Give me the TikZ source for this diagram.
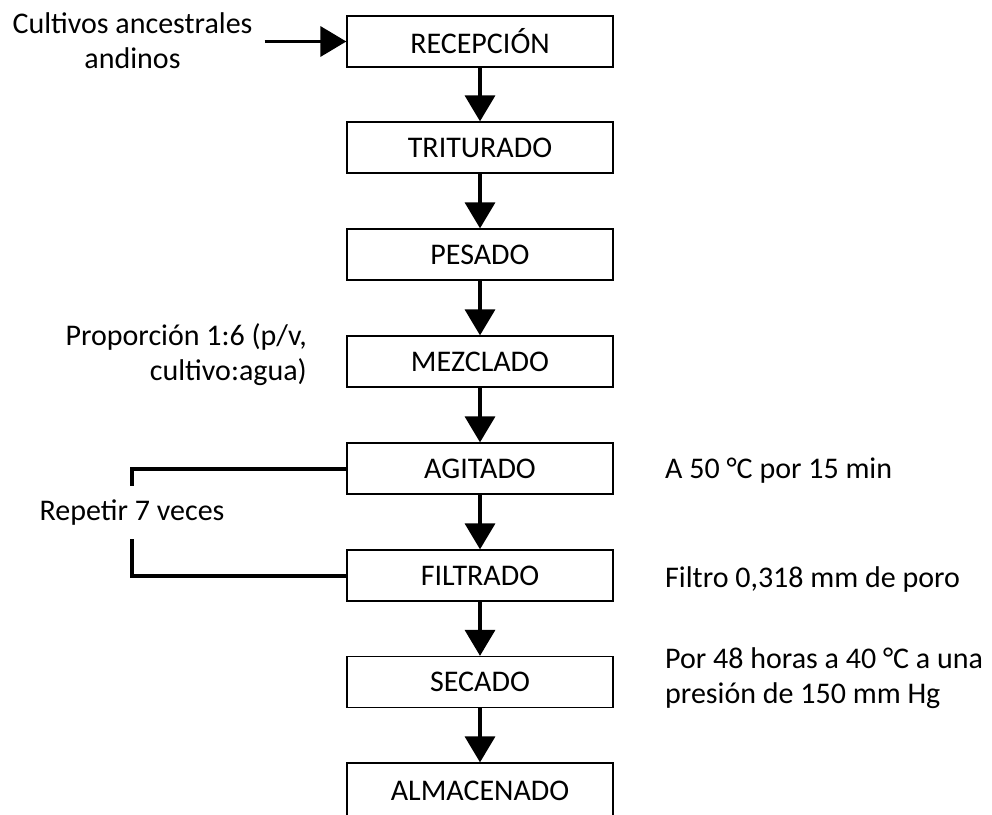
\documentclass[tikz,border=0pt]{standalone}
\usepackage{fontspec}
\setmainfont{Carlito}
\usetikzlibrary{arrows.meta}
\begin{document}
\begin{tikzpicture}[x=1pt,y=-1pt,
  every node/.style={font=\fontsize{30}{35}\selectfont},
  stepbox/.style={draw=black, line width=1.3pt, minimum width=266pt,
    minimum height=51pt, inner sep=0pt},
  flow/.style={line width=3.6pt, -{Triangle[length=26pt,width=30pt]}},
  bracket/.style={line width=4pt},
  note/.style={inner sep=0pt}
]
\useasboundingbox (0,0) rectangle (992,814);
\clip (0,0) rectangle (992,814);

% process steps
\node[stepbox] (rec) at (480,41.5)  {RECEPCIÓN};
\node[stepbox] (tri) at (480,147.5) {TRITURADO};
\node[stepbox] (pes) at (480,254.5) {PESADO};
\node[stepbox] (mez) at (480,361.5) {MEZCLADO};
\node[stepbox] (agi) at (480,468.5) {AGITADO};
\node[stepbox] (fil) at (480,575.5) {FILTRADO};
\node[stepbox] (sec) at (480,682)   {SECADO};
% last step runs past the lower edge of the page
\node[stepbox, minimum height=56pt] (alm) at (480,791) {ALMACENADO};

% flow arrows
\draw[flow] (rec) -- (tri);
\draw[flow] (tri) -- (pes);
\draw[flow] (pes) -- (mez);
\draw[flow] (mez) -- (agi);
\draw[flow] (agi) -- (fil);
\draw[flow] (fil) -- (sec);
\draw[flow] (sec) -- (alm);

% raw material input
\node[note, align=center, inner xsep=12pt] (cult) at (132.5,41)
  {Cultivos ancestrales\\andinos};
\draw[flow] (cult.east |- rec.west) -- (rec.west);

% side notes
\node[note, align=right, anchor=east] (prop) at (307,355)
  {Proporción 1:6 (p/v,\\cultivo:agua)};
\node[note, anchor=base west] (temp) at (665,478) {A 50 °C por 15 min};
\node[note, anchor=base west] (filt) at (665,587) {Filtro 0,318 mm de poro};
\node[note, align=left, anchor=west] (seco) at (665,678)
  {Por 48 horas a 40 °C a una\\presión de 150 mm Hg};

% repetition bracket
\node[note, minimum height=53pt] (rep) at (132,512.5) {Repetir 7 veces};
\draw[bracket] (agi.west) -| (rep.north);
\draw[bracket] (rep.south) |- (fil.west);
\end{tikzpicture}
\end{document}
